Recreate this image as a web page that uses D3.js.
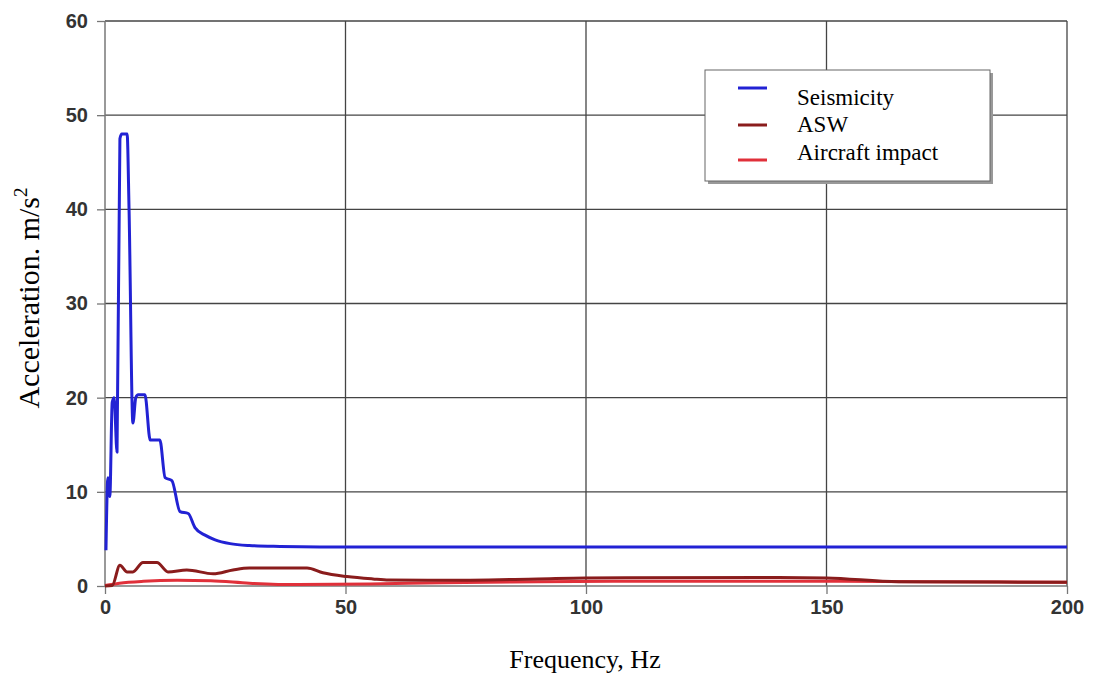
<!DOCTYPE html>
<html lang="en">
<head>
<meta charset="UTF-8">
<title>Acceleration spectra</title>
<script src="https://d3js.org/d3.v7.min.js"></script>
<style>
  body { margin: 0; background: #fff; }
  .tick text { font-family: "Liberation Sans", Arial, sans-serif; font-weight: bold; font-size: 20px; fill: #333; }
  .title { font-family: "Liberation Serif", "Times New Roman", serif; font-size: 26px; fill: #000; }
  .legend text { font-family: "Liberation Serif", "Times New Roman", serif; font-size: 23px; fill: #000; }
</style>
</head>
<body>
<svg id="chart" width="1094" height="686"></svg>
<script>
// values
const xTicks = [0, 50, 100, 150, 200];
const yTicks = [0, 10, 20, 30, 40, 50, 60];

const seismFreq = [0.2, 0.6, 1.0, 1.5, 1.9, 2.5, 3.1, 3.5, 4.6, 5.0, 5.8, 6.4, 6.9, 8.3, 9.4, 11.4, 12.5, 13.9, 15.6, 17.3, 18.7, 20.8, 22.9, 26, 30, 36.4, 44.7, 200];
const seismVal  = [3.8, 11.5, 9.5, 19.5, 20, 14.2, 47.5, 48, 48, 40, 17.3, 20, 20.3, 20.3, 15.5, 15.5, 11.5, 11.2, 7.9, 7.7, 6.2, 5.4, 4.9, 4.5, 4.3, 4.2, 4.15, 4.15];

const aswFreq = [0, 1.5, 3.1, 4.6, 5.8, 7.9, 10.8, 13.1, 17, 22.5, 26.6, 30, 42, 45.3, 50.3, 55.7, 59, 70, 90, 100, 140, 150, 165, 200];
const aswVal  = [0, 0.05, 2.2, 1.5, 1.5, 2.5, 2.5, 1.5, 1.7, 1.3, 1.7, 1.9, 1.9, 1.4, 1.0, 0.75, 0.64, 0.6, 0.75, 0.85, 0.9, 0.85, 0.45, 0.4];

const airFreq = [0, 3, 8, 15, 22, 30, 40, 55, 70, 90, 110, 150, 170, 200];
const airVal  = [0.05, 0.3, 0.5, 0.6, 0.55, 0.3, 0.15, 0.2, 0.35, 0.45, 0.5, 0.5, 0.45, 0.4];

const seriesNames = ["Seismicity", "ASW", "Aircraft impact"];
const seriesColors = ["#2222d4", "#8a1c1c", "#e0303a"];

const svg = d3.select("#chart");
const mLeft = 105, mRight = 1067, mTop = 21, mBottom = 586;

const x = d3.scaleLinear().domain([0, 200]).range([mLeft, mRight]);
const y = d3.scaleLinear().domain([0, 60]).range([mBottom, mTop]);

// grid
svg.append("g").selectAll("line").data(yTicks.slice(1)).join("line")
  .attr("x1", mLeft).attr("x2", mRight)
  .attr("y1", d => y(d)).attr("y2", d => y(d))
  .attr("stroke", "#444").attr("stroke-width", 1.3);
svg.append("g").selectAll("line").data(xTicks.slice(1)).join("line")
  .attr("y1", mTop).attr("y2", mBottom)
  .attr("x1", d => x(d)).attr("x2", d => x(d))
  .attr("stroke", "#444").attr("stroke-width", 1.3);

// axes
const yAxis = svg.append("g").attr("transform", `translate(${mLeft},0)`)
  .call(d3.axisLeft(y).tickValues(yTicks).tickSize(8).tickPadding(9));
const xAxis = svg.append("g").attr("transform", `translate(0,${mBottom})`)
  .call(d3.axisBottom(x).tickValues(xTicks).tickSize(8).tickPadding(6));
[yAxis, xAxis].forEach(a => {
  a.select(".domain").attr("stroke", "#777").attr("stroke-width", 1.5);
  a.selectAll(".tick line").attr("stroke", "#777").attr("stroke-width", 1.3);
});
xAxis.select(".domain").attr("d", `M${mLeft},0H${mRight}`);
yAxis.select(".domain").attr("d", `M0,${mBottom}V${mTop}`);

// lines
const allSeries = [
  {f: seismFreq, v: seismVal},
  {f: aswFreq, v: aswVal},
  {f: airFreq, v: airVal}
];
const line = d3.line().x(d => x(d[0])).y(d => y(d[1])).curve(d3.curveMonotoneX);
// aircraft and ASW under seismicity
[2, 1, 0].forEach(i => {
  const s = allSeries[i];
  const pts = s.f.map((f, k) => [f, s.v[k]]);
  svg.append("path").datum(pts)
    .attr("d", line)
    .attr("fill", "none")
    .attr("stroke", seriesColors[i])
    .attr("stroke-width", 3)
    .attr("stroke-linejoin", "round");
});

// legend
const lg = svg.append("g").attr("class", "legend");
lg.append("rect").attr("x", 708).attr("y", 73).attr("width", 285).attr("height", 111).attr("fill", "#999");
lg.append("rect").attr("x", 705).attr("y", 70).attr("width", 285).attr("height", 111)
  .attr("fill", "#fff").attr("stroke", "#666").attr("stroke-width", 1);
const legendLineY = [88, 125, 160];
const legendTextY = [105, 132, 160];
seriesNames.forEach((n, i) => {
  lg.append("line").attr("x1", 738).attr("x2", 767).attr("y1", legendLineY[i]).attr("y2", legendLineY[i])
    .attr("stroke", seriesColors[i]).attr("stroke-width", 3);
  lg.append("text").attr("x", 797).attr("y", legendTextY[i]).text(n);
});

// titles
svg.append("text").attr("class", "title")
  .attr("x", 585).attr("y", 668).attr("text-anchor", "middle").text("Frequency, Hz");
const yt = svg.append("text").attr("class", "title")
  .style("font-size", "30px")
  .attr("transform", "translate(39,298) rotate(-90)").attr("text-anchor", "middle");
yt.append("tspan").text("Acceleration. m/s");
yt.append("tspan").attr("dy", -12).style("font-size", "19px").text("2");
</script>
</body>
</html>
